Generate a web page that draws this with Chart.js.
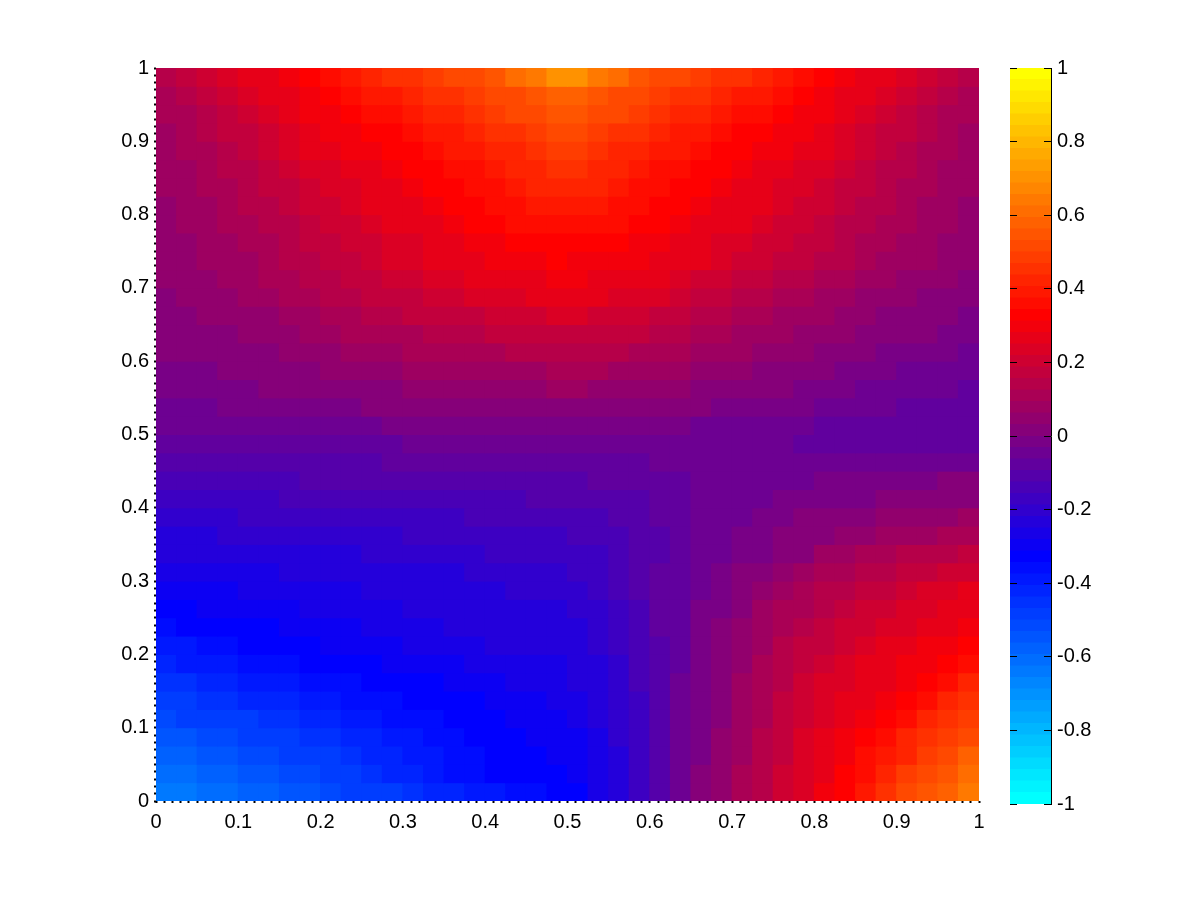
<!DOCTYPE html>
<html>
<head>
<meta charset="utf-8">
<script src="https://cdn.jsdelivr.net/npm/chart.js@4"></script>
<style>
  html, body { margin: 0; padding: 0; background: #fff; }
  canvas { position: absolute; left: 0; top: 0; }
</style>
</head>
<body>
<canvas id="field" width="1200" height="900"></canvas>
<canvas id="bar" width="1200" height="900"></canvas>
<script>
// field values in hundredths, rows run top (y=1) to bottom (y=0)
var fieldRows = [
  [13,16,19,22,25,28,31,34,36,39,41,44,46,48,50,53,56,60,64,69,69,64,60,56,53,50,48,46,44,41,39,36,34,31,28,25,22,19,16,13],
  [11,14,16,19,22,25,28,31,33,36,38,40,42,44,46,48,51,53,56,59,59,56,53,51,48,46,44,42,40,38,36,33,31,28,25,22,19,16,14,11],
  [10,12,14,17,20,23,26,29,31,33,35,37,39,41,43,45,48,50,52,54,54,52,50,48,45,43,41,39,37,35,33,31,29,26,23,20,17,14,12,10],
  [9,11,13,16,18,21,24,27,29,31,33,34,36,38,40,42,44,46,48,50,50,48,46,44,42,40,38,36,34,33,31,29,27,24,21,18,16,13,11,9],
  [8,10,12,14,16,19,22,25,27,29,31,32,34,36,38,39,41,43,45,47,47,45,43,41,39,38,36,34,32,31,29,27,25,22,19,16,14,12,10,8],
  [7,9,11,13,15,18,20,22,24,26,28,30,32,33,35,37,39,41,43,44,44,43,41,39,37,35,33,32,30,28,26,24,22,20,18,15,13,11,9,7],
  [7,8,10,12,14,16,18,20,22,24,26,28,30,32,33,35,37,39,41,42,42,41,39,37,35,33,32,30,28,26,24,22,20,18,16,14,12,10,8,7],
  [6,7,9,11,13,15,17,19,21,23,25,27,28,30,32,33,35,37,38,39,39,38,37,35,33,32,30,28,27,25,23,21,19,17,15,13,11,9,7,6],
  [6,7,9,10,12,13,15,17,19,21,23,25,27,28,30,32,33,35,36,37,37,36,35,33,32,30,28,27,25,23,21,19,17,15,13,12,10,9,7,6],
  [5,6,8,9,11,12,14,16,17,19,21,23,24,26,28,29,31,32,33,34,34,33,32,31,29,28,26,24,23,21,19,17,16,14,12,11,9,8,6,5],
  [5,6,7,8,9,11,13,14,16,18,20,22,24,25,27,28,30,30,31,32,31,31,30,29,28,26,25,23,21,20,18,16,14,13,11,9,8,7,5,4],
  [4,5,6,7,8,10,12,13,15,16,18,19,21,22,24,25,27,28,28,29,29,28,27,26,25,23,21,20,18,17,15,14,12,11,9,7,6,5,4,2],
  [3,4,5,6,7,8,10,11,13,14,16,17,18,19,21,22,24,24,25,26,26,25,24,23,22,20,18,17,15,14,12,11,9,8,6,5,4,3,2,1],
  [2,3,4,5,6,6,8,9,11,12,13,14,16,16,18,18,20,20,21,22,22,21,20,19,18,16,15,14,12,11,9,8,7,6,4,3,2,1,0,-1],
  [1,1,2,3,4,4,6,7,9,10,10,12,12,13,14,15,16,16,17,18,18,18,17,16,15,14,12,11,9,9,7,6,4,4,2,2,0,0,-1,-2],
  [0,0,1,2,2,3,4,5,6,7,8,9,10,10,11,12,12,13,13,14,14,14,13,12,11,11,9,9,7,6,4,4,2,1,0,-1,-2,-2,-3,-4],
  [-2,-1,-1,0,0,1,2,3,4,5,6,6,7,7,8,8,8,9,9,10,10,10,9,9,8,7,6,5,4,3,2,1,0,-1,-2,-2,-4,-4,-5,-5],
  [-3,-2,-2,-1,-1,0,0,1,1,2,2,3,4,4,4,5,5,6,6,7,7,6,6,5,4,4,3,2,1,0,0,-1,-2,-3,-4,-5,-5,-6,-6,-7],
  [-4,-4,-4,-3,-3,-2,-2,-2,-1,-1,0,0,0,0,1,1,1,2,2,3,3,2,2,2,1,1,0,-1,-1,-2,-3,-3,-4,-5,-5,-6,-7,-7,-8,-8],
  [-5,-5,-5,-5,-5,-5,-5,-4,-4,-4,-4,-3,-3,-3,-3,-3,-3,-3,-2,-2,-2,-2,-2,-2,-3,-3,-4,-4,-4,-5,-6,-6,-7,-7,-8,-8,-8,-9,-9,-9],
  [-8,-7,-7,-7,-7,-7,-7,-7,-7,-7,-7,-7,-6,-6,-6,-6,-6,-6,-6,-5,-5,-5,-5,-5,-5,-5,-5,-6,-6,-6,-6,-7,-7,-7,-8,-8,-8,-8,-8,-8],
  [-11,-10,-10,-10,-10,-10,-10,-10,-10,-10,-10,-9,-9,-9,-9,-9,-9,-8,-8,-8,-8,-7,-7,-7,-6,-6,-6,-6,-6,-6,-6,-6,-5,-5,-5,-5,-5,-4,-4,-4],
  [-14,-13,-13,-13,-13,-13,-13,-12,-12,-12,-12,-12,-11,-11,-11,-11,-11,-11,-10,-10,-10,-9,-9,-8,-7,-7,-6,-6,-5,-5,-4,-4,-3,-3,-2,-2,-1,-1,0,0],
  [-16,-16,-16,-16,-16,-16,-15,-15,-15,-15,-14,-14,-14,-14,-13,-13,-13,-13,-12,-12,-12,-11,-11,-10,-9,-8,-6,-6,-5,-4,-3,-2,-2,-1,-1,0,1,1,2,3],
  [-19,-19,-19,-19,-18,-18,-18,-18,-18,-17,-17,-17,-16,-16,-16,-15,-15,-15,-14,-14,-14,-13,-12,-11,-9,-8,-6,-5,-4,-2,-1,0,1,2,3,4,4,5,6,7],
  [-22,-22,-22,-21,-21,-21,-21,-21,-20,-20,-19,-19,-18,-18,-17,-17,-16,-16,-16,-16,-15,-14,-13,-12,-10,-8,-6,-4,-3,-2,1,1,3,4,6,7,8,9,10,11],
  [-25,-25,-25,-24,-24,-24,-23,-23,-22,-22,-21,-21,-20,-20,-19,-19,-18,-18,-18,-17,-17,-16,-14,-12,-10,-9,-5,-5,-3,-1,3,3,7,7,10,11,13,14,15,16],
  [-28,-27,-27,-27,-26,-26,-25,-25,-25,-24,-24,-23,-23,-22,-22,-21,-20,-20,-19,-19,-18,-17,-15,-12,-9,-7,-4,-3,0,3,6,8,10,11,13,14,16,17,19,20],
  [-30,-30,-29,-29,-28,-28,-27,-27,-26,-26,-25,-25,-24,-24,-23,-23,-22,-21,-21,-20,-19,-18,-15,-12,-9,-7,-4,-2,2,5,8,10,13,15,17,18,20,22,24,25],
  [-32,-32,-31,-30,-30,-29,-29,-28,-28,-27,-27,-26,-25,-25,-24,-24,-23,-23,-22,-22,-21,-20,-17,-13,-9,-7,-3,-1,3,7,10,12,15,17,19,20,22,24,26,27],
  [-35,-34,-34,-33,-32,-32,-31,-30,-29,-29,-28,-27,-27,-26,-25,-25,-24,-24,-23,-23,-22,-21,-18,-13,-9,-7,-3,0,4,8,11,14,17,19,21,22,24,26,28,30],
  [-38,-38,-36,-36,-34,-34,-32,-32,-31,-30,-29,-29,-27,-27,-26,-26,-25,-25,-25,-24,-23,-21,-18,-14,-10,-7,-3,1,5,9,13,16,18,20,23,25,27,29,31,34],
  [-41,-40,-39,-38,-37,-36,-35,-34,-33,-33,-32,-31,-30,-29,-29,-28,-27,-27,-26,-26,-24,-22,-19,-15,-10,-7,-3,2,6,10,14,17,20,22,25,27,29,31,34,37],
  [-44,-44,-42,-42,-40,-40,-38,-37,-36,-35,-34,-33,-32,-32,-30,-30,-29,-28,-27,-27,-25,-23,-19,-15,-10,-6,-2,2,7,11,15,19,22,24,26,28,31,34,37,41],
  [-47,-47,-45,-45,-43,-42,-41,-40,-38,-37,-36,-35,-34,-33,-32,-32,-31,-30,-29,-28,-26,-24,-20,-16,-11,-6,-2,3,8,12,16,20,23,26,28,31,34,37,41,45],
  [-51,-50,-49,-48,-47,-46,-44,-43,-41,-40,-38,-37,-36,-35,-34,-33,-32,-31,-30,-29,-27,-25,-21,-16,-11,-6,-1,3,8,12,17,21,24,27,30,33,37,41,45,49],
  [-54,-54,-52,-51,-50,-49,-47,-45,-44,-42,-41,-39,-38,-36,-35,-34,-33,-32,-31,-30,-29,-26,-21,-16,-11,-6,-1,4,9,13,17,22,25,29,33,37,41,45,49,53],
  [-58,-57,-55,-54,-53,-51,-50,-48,-47,-45,-43,-42,-40,-38,-36,-35,-34,-33,-32,-31,-30,-26,-22,-17,-11,-6,-1,4,9,13,18,22,27,31,35,39,43,48,52,57],
  [-61,-60,-59,-57,-56,-55,-53,-52,-49,-48,-46,-43,-42,-40,-37,-36,-34,-34,-33,-33,-31,-27,-22,-17,-11,-6,0,5,10,14,19,23,28,32,37,42,47,51,56,60],
  [-65,-64,-62,-60,-59,-57,-55,-54,-52,-50,-49,-47,-45,-43,-41,-39,-38,-36,-35,-34,-32,-28,-23,-17,-11,-6,0,5,10,15,19,24,29,33,39,44,50,54,59,64]
];
var barLevels = [-98,-95,-92,-89,-86,-83,-80,-77,-73,-70,-67,-64,-61,-58,-55,-52,
  -48,-45,-42,-39,-36,-33,-30,-27,-23,-20,-17,-14,-11,-8,-5,-2,
  2,5,8,11,14,17,20,23,27,30,33,36,39,42,45,48,
  52,55,58,61,64,67,70,73,77,80,83,86,89,92,95,98];
var barTicks = [-1,-0.8,-0.6,-0.4,-0.2,0,0.2,0.4,0.6,0.8,1];

var labelFont = { family: "'Liberation Sans', Arial, sans-serif", size: 20 };

function levelColor(v) {
  // 64 steps cyan - blue - red - yellow
  var band = Math.min(63, Math.max(0, Math.floor((v / 100 + 1) * 32)));
  var t = band / 63 * 3;
  var r, g, b;
  if (t < 1) { r = 0; g = 255 * (1 - t); b = 255; }
  else if (t < 2) { r = 255 * (t - 1); g = 0; b = 255 * (2 - t); }
  else { r = 255; g = 255 * (t - 2); b = 0; }
  return "rgb(" + Math.round(r) + "," + Math.round(g) + "," + Math.round(b) + ")";
}

// every 0.01 gets a tick mark, which gives the dotted edge, only the tenths get a label
function tenths(value) {
  var n = Math.round(value * 100);
  return n % 10 === 0 ? String(n / 100) : "";
}

var nRows = fieldRows.length;
var nCols = fieldRows[0].length;
var fieldSets = fieldRows.map(function (row, r) {
  return {
    data: row.map(function (v, c) {
      return { x: (c + 0.5) / nCols, y: [1 - (r + 1) / nRows, 1 - r / nRows] };
    }),
    backgroundColor: row.map(levelColor),
    borderWidth: 0
  };
});

new Chart(document.getElementById("field"), {
  type: "bar",
  data: { datasets: fieldSets },
  options: {
    responsive: false,
    animation: false,
    grouped: false,
    barThickness: 823 / nCols,
    inflateAmount: 0.5,
    layout: { autoPadding: false, padding: { left: 0, right: 221, top: 68, bottom: 0 } },
    plugins: { legend: { display: false }, tooltip: { enabled: false } },
    scales: {
      x: {
        type: "linear", min: 0, max: 1, offset: false,
        afterFit: function (s) { s.height = 99; },
        grid: { offset: false, drawOnChartArea: false, tickLength: 2, tickWidth: 2, tickColor: "#000" },
        border: { display: false },
        ticks: { stepSize: 0.01, maxTicksLimit: 200, autoSkip: false, maxRotation: 0, padding: 7,
          color: "#000", font: labelFont, callback: tenths }
      },
      y: {
        type: "linear", min: 0, max: 1,
        afterFit: function (s) { s.width = 156; },
        grid: { drawOnChartArea: false, tickLength: 2, tickWidth: 2, tickColor: "#000" },
        border: { display: false },
        ticks: { stepSize: 0.01, maxTicksLimit: 200, autoSkip: false, padding: 5,
          color: "#000", font: labelFont, callback: tenths }
      }
    }
  }
});

var barSets = barLevels.map(function (v, i) {
  return {
    data: [{ x: "c", y: [i / 32 - 1, (i + 1) / 32 - 1] }],
    backgroundColor: levelColor(v),
    borderWidth: 0
  };
});

new Chart(document.getElementById("bar"), {
  type: "bar",
  data: { labels: ["c"], datasets: barSets },
  options: {
    responsive: false,
    animation: false,
    grouped: false,
    barPercentage: 1,
    categoryPercentage: 1,
    inflateAmount: 0.5,
    layout: { autoPadding: false, padding: { left: 1010, right: 0, top: 68, bottom: 96 } },
    plugins: { legend: { display: false }, tooltip: { enabled: false } },
    scales: {
      x: {
        position: "top",
        afterFit: function (s) { s.height = 0; },
        grid: { display: false },
        border: { color: "#000", width: 1 },
        ticks: { display: false }
      },
      y: {
        position: "right",
        min: -1, max: 1,
        afterBuildTicks: function (s) { s.ticks = barTicks.map(function (v) { return { value: v }; }); },
        afterFit: function (s) { s.width = 149; },
        grid: { color: "#000", z: 1, drawTicks: false },
        border: { color: "#000", width: 1, dash: [7, 27, 7, 0], z: 1 },
        ticks: { padding: 6, color: "#000", font: labelFont, autoSkip: false,
          callback: function (value) { return String(value); } }
      }
    }
  }
});
</script>
</body>
</html>
